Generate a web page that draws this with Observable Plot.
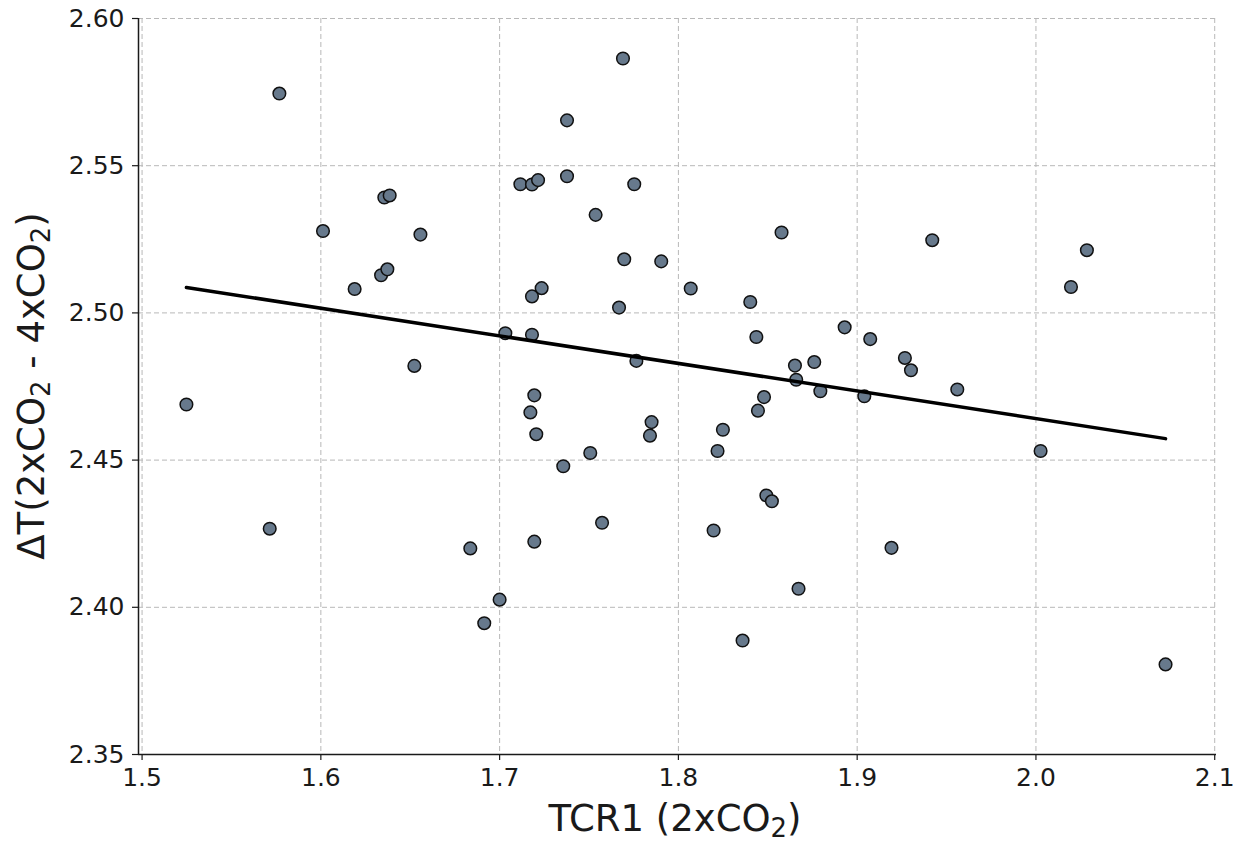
<!DOCTYPE html>
<html><head><meta charset="utf-8">
<script src="https://cdn.jsdelivr.net/npm/d3@7"></script>
<script src="https://cdn.jsdelivr.net/npm/@observablehq/plot@0.6"></script>
<style>body{margin:0;background:#fff;} svg{display:block}</style>
</head><body><div id="chart"></div>
<script>
const tcr1 = [1.5248,1.5714,1.5768,1.6012,1.6189,1.6355,1.6385,1.6337,1.6372,1.6523,
1.6557,1.6836,1.6914,1.7000,1.7032,1.7116,1.7181,1.7215,1.7235,1.7181,
1.7181,1.7194,1.7172,1.7205,1.7194,1.7356,1.7377,1.7377,1.7507,1.7537,
1.7573,1.7668,1.7690,1.7697,1.7753,1.7765,1.7841,1.7850,1.7904,1.8069,
1.8197,1.8219,1.8249,1.8359,1.8402,1.8436,1.8445,1.8479,1.8492,1.8523,
1.8577,1.8652,1.8659,1.8672,1.8760,1.8794,1.8930,1.9040,1.9073,1.9192,
1.9267,1.9301,1.9420,1.9560,2.0026,2.0196,2.0285,2.0725];
const deltaT = [2.4689,2.4267,2.5745,2.5278,2.5081,2.5392,2.5399,2.5128,2.5148,2.4820,
2.5266,2.4200,2.3946,2.4026,2.4931,2.5437,2.5436,2.5451,2.5084,2.5056,
2.4926,2.4720,2.4662,2.4588,2.4223,2.4479,2.5654,2.5464,2.4524,2.5333,
2.4287,2.5018,2.5864,2.5182,2.5437,2.4837,2.4583,2.4629,2.5175,2.5083,
2.4261,2.4531,2.4603,2.3887,2.5037,2.4918,2.4668,2.4714,2.4380,2.4360,
2.5273,2.4821,2.4773,2.4063,2.4833,2.4734,2.4951,2.4717,2.4911,2.4202,
2.4847,2.4805,2.5247,2.4740,2.4531,2.5088,2.5213,2.3806];
const xTicks = [1.5,1.6,1.7,1.8,1.9,2.0,2.1];
const yTicks = [2.35,2.40,2.45,2.50,2.55,2.60];
const xDomain = [1.498, 2.101];
const yDomain = [2.35, 2.60];
const xLabelParts = [["TCR1 (2xCO", false], ["2", true], [")", false]];
const yLabelParts = [["ΔT(2xCO", false], ["2", true], [" - 4xCO", false], ["2", true], [")", false]];

const data = tcr1.map((x, i) => ({x, y: deltaT[i]}));

const W = 1241, H = 843;
const mL = 138, mR = 25, mT = 18, mB = 89;

const svg = Plot.plot({
  width: W, height: H,
  marginLeft: mL, marginRight: mR, marginTop: mT, marginBottom: mB,
  style: {fontFamily: "DejaVu Sans", fontSize: "25px", color: "#1a1a1a", background: "white"},
  x: {domain: xDomain},
  y: {domain: yDomain},
  marks: [
    Plot.gridX({ticks: xTicks, stroke: "#b8b8b8", strokeOpacity: 1, strokeWidth: 1, strokeDasharray: "5,3"}),
    Plot.gridY({ticks: yTicks, stroke: "#b8b8b8", strokeOpacity: 1, strokeWidth: 1, strokeDasharray: "5,3"}),
    Plot.axisX({ticks: xTicks, tickFormat: d => d.toFixed(1), tickSize: 6, tickPadding: 8, label: null, stroke: "#1a1a1a", strokeWidth: 1.2}),
    Plot.axisY({ticks: yTicks, tickFormat: d => d.toFixed(2), tickSize: 6, tickPadding: 8, label: null, stroke: "#1a1a1a", strokeWidth: 1.2}),
    Plot.ruleX([xDomain[0]], {stroke: "#1a1a1a", strokeWidth: 1.5}),
    Plot.ruleY([yDomain[0]], {stroke: "#1a1a1a", strokeWidth: 1.5}),
    Plot.dot(data, {x: "x", y: "y", r: 6.3, fill: "#67798c", stroke: "#111", strokeWidth: 1.5}),
    Plot.linearRegressionY(data, {x: "x", y: "y", ci: 0, stroke: "black", strokeWidth: 3.5})
  ]
});

function addLabel(parts, attrs) {
  const t = d3.select(svg).append("text")
    .attr("font-family", "DejaVu Sans")
    .attr("font-size", attrs.size)
    .attr("fill", "#1a1a1a")
    .attr("text-anchor", "middle")
    .attr("transform", attrs.transform);
  let prevSub = false;
  for (const [s, sub] of parts) {
    const ts = t.append("tspan").text(s);
    if (sub) { ts.attr("font-size", attrs.size * 0.7).attr("dy", attrs.size * 0.17); }
    else if (prevSub) { ts.attr("dy", -attrs.size * 0.17); }
    prevSub = sub;
  }
}
addLabel(xLabelParts, {size: 37, transform: `translate(675,831)`});
addLabel(yLabelParts, {size: 37, transform: `translate(44,${(mT + H - mB) / 2}) rotate(-90)`});

document.getElementById("chart").appendChild(svg);
</script>
</body></html>
